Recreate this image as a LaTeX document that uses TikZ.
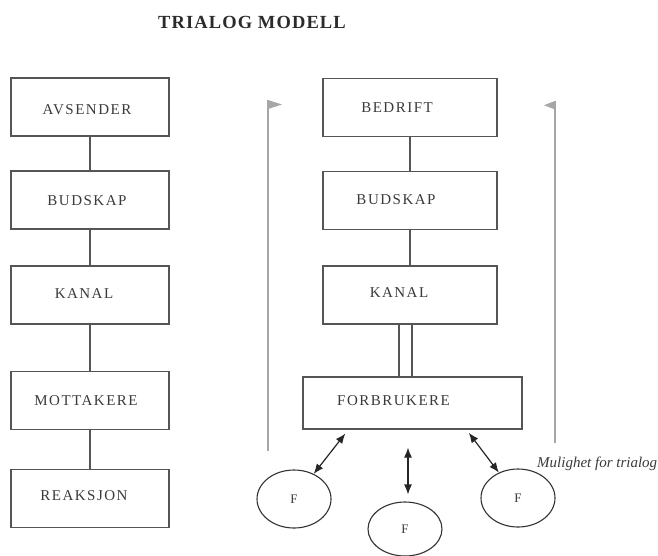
\documentclass[tikz,border=0pt]{standalone}
\usepackage{fontspec}
\setmainfont{Liberation Serif}
\newfontfamily\boxfont[LetterSpace=10]{Liberation Serif}
\newfontfamily\titlefont[LetterSpace=6]{Liberation Serif}
\usetikzlibrary{arrows.meta,shapes.geometric,calc}

\definecolor{boxgray}{HTML}{555555}
\definecolor{textgray}{HTML}{3A3A3A}
\definecolor{flowgray}{HTML}{A6A6A6}
\definecolor{titlegray}{HTML}{2B2B2B}

\begin{document}
\begin{tikzpicture}[x=1pt,y=-1pt,
  box/.style={draw=boxgray, line width=1.2pt, rectangle, inner sep=0pt, minimum height=58pt},
  leftbox/.style={box, minimum width=158pt},
  rightbox/.style={box, minimum width=174pt},
  lbl/.style={font=\boxfont\fontsize{15}{18}\selectfont, text=textgray, inner sep=0pt},
  link/.style={draw=boxgray, line width=1.2pt},
  bubble/.style={draw=black!80, line width=1.1pt, ellipse, inner sep=0pt,
    minimum width=74pt, minimum height=58pt, text=textgray,
    font=\fontsize{13}{15}\selectfont},
  twoway/.style={{Latex[length=10pt,width=8pt]}-{Latex[length=10pt,width=8pt]},
    line width=1.2pt, draw=black!85},
  flow/.style={draw=flowgray, line width=1.5pt},
]
\useasboundingbox (0,0) rectangle (658,555);

% title
\node[font=\titlefont\bfseries\fontsize{18.5}{22}\selectfont, text=titlegray, inner sep=0pt]
  (title) at (252,22) {TRIALOG MODELL};

% left column: classic communication chain
\node[leftbox] (avs) at (90,107) {};
\node[leftbox] (bud1) at (90,200) {};
\node[leftbox] (kan1) at (90,295) {};
\node[leftbox] (mot) at (90,400.5) {};
\node[leftbox] (rea) at (90,498.5) {};

\node[lbl] (avs-t)  at ($(avs.center)+(-3,3)$)  {AVSENDER};
\node[lbl] (bud1-t) at ($(bud1.center)+(-3,1)$) {BUDSKAP};
\node[lbl] (kan1-t) at ($(kan1.center)+(-6,-1)$) {KANAL};
\node[lbl] (mot-t)  at ($(mot.center)+(-4,0)$)  {MOTTAKERE};
\node[lbl] (rea-t)  at ($(rea.center)+(-6,-3)$) {REAKSJON};

\draw[link] (avs.south) -- (bud1.north);
\draw[link] (bud1.south) -- (kan1.north);
\draw[link] (kan1.south) -- (mot.north);
\draw[link] (mot.south) -- (rea.north);

% right column: company to consumers
\node[rightbox] (bed) at (410,107.5) {};
\node[rightbox] (bud2) at (410,200.5) {};
\node[rightbox] (kan2) at (410,295) {};
\node[box, minimum width=219pt, minimum height=52pt] (forb) at (412.5,403) {};

\node[lbl] (bed-t)  at ($(bed.center)+(-13,0)$)  {BEDRIFT};
\node[lbl] (bud2-t) at ($(bud2.center)+(-14,-1)$) {BUDSKAP};
\node[lbl] (kan2-t) at ($(kan2.center)+(-11,-2)$) {KANAL};
\node[lbl] (forb-t) at ($(forb.center)+(-19,-2)$) {FORBRUKERE};

\draw[link] (bed.south) -- (bud2.north);
\draw[link] (bud2.south) -- (kan2.north);
\draw[link, double=white, double distance=11.8pt]
  ([xshift=-4.5pt]kan2.south) -- ([xshift=-4.5pt]kan2.south |- forb.north);

% individual consumers
\node[bubble] (f1) at (294,499) {F};
\node[bubble, minimum height=54pt] (f2) at (405,529) {F};
\node[bubble] (f3) at (518,498) {F};

\coordinate (p1) at ([xshift=46pt]forb.south west);
\coordinate (p2) at ([xshift=-4.5pt]forb.south);
\coordinate (p3) at ([xshift=164pt]forb.south west);
\draw[twoway, shorten <=5pt] (p1) -- (f1);
\draw[twoway, shorten <=18pt, shorten >=7pt] (p2) -- (p2 |- f2.north);
\draw[twoway, shorten <=4pt] (p3) -- (f3);

% feedback arrows
\coordinate (lt) at (268,100);
\coordinate (lb) at (268,451);
\draw[flow] (lb) -- (lt);
\fill[flowgray] (lt) -- ++(14,4.5) -- ++(-14,4.5) -- cycle;

\coordinate (rt) at (555,101);
\coordinate (rb) at (555,443);
\draw[flow] (rb) -- (rt);
\fill[flowgray] (rt) -- ++(-11,4.2) -- ++(11,4.3) -- cycle;

\node[font=\itshape\fontsize{15}{18}\selectfont, text=textgray, anchor=base west, inner sep=0pt]
  (note) at (537,467) {Mulighet for trialog};
\end{tikzpicture}
\end{document}
